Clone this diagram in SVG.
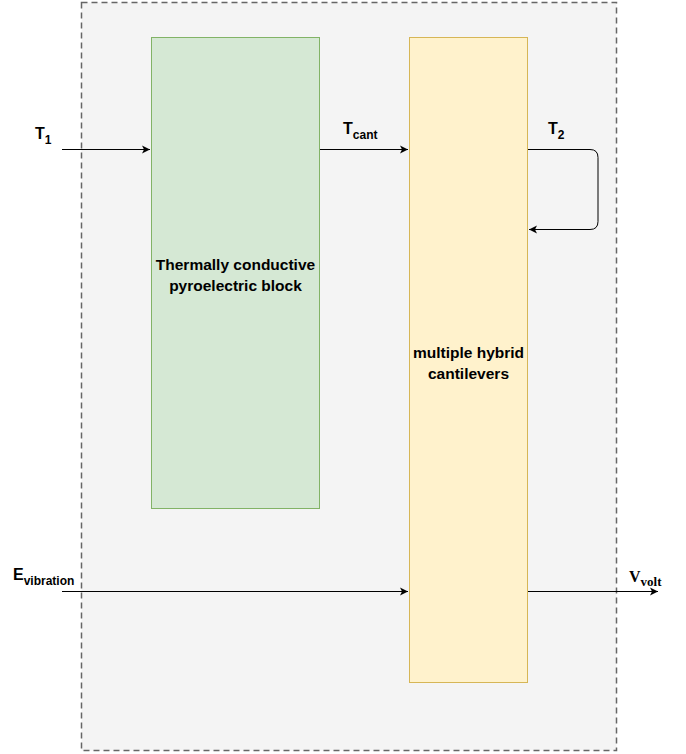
<svg xmlns="http://www.w3.org/2000/svg" width="686" height="754" viewBox="0 0 686 754">
<defs>
<style>
.lbl{font-family:"Liberation Sans",Arial,sans-serif;font-weight:bold;font-size:15.5px;fill:#000}
.tl{font-family:"Liberation Sans",Arial,sans-serif;font-weight:bold;font-size:16px;fill:#000}
.sub{font-size:12px}
.edge{fill:none;stroke:#000;stroke-width:1}
</style>
<marker id="arr" markerWidth="10" markerHeight="10" refX="9" refY="5" orient="auto" markerUnits="userSpaceOnUse">
<path d="M1,1 L9,5 L1,9 L3,5 Z" fill="#000"/>
</marker>
</defs>
<rect width="686" height="754" fill="#fff"/>
<g id="container">
<rect x="81.5" y="2.5" width="535" height="748" fill="#f4f4f4" stroke="#666" stroke-width="1.5" stroke-dasharray="6,4"/>
</g>
<g id="pyro">
<rect x="151.5" y="37.5" width="168" height="471" fill="#d5e8d4" stroke="#82b366"/>
<text class="lbl" x="235.5" y="270" text-anchor="middle">Thermally conductive</text>
<text class="lbl" x="235.5" y="291" text-anchor="middle">pyroelectric block</text>
</g>
<g id="cantilevers">
<rect x="409.5" y="37.5" width="118" height="645" fill="#fff2cc" stroke="#d6b656"/>
<text class="lbl" x="468.5" y="358" text-anchor="middle">multiple hybrid</text>
<text class="lbl" x="468.5" y="379" text-anchor="middle">cantilevers</text>
</g>
<g id="connectors">
<path class="edge" d="M62,149.5 H150" marker-end="url(#arr)"/>
<path class="edge" d="M320,149.5 H408" marker-end="url(#arr)"/>
<path class="edge" d="M528,149.5 H590 Q598,149.5 598,157.5 V221.5 Q598,229.5 590,229.5 H529" marker-end="url(#arr)"/>
<path class="edge" d="M62,591.5 H408" marker-end="url(#arr)"/>
<path class="edge" d="M528,591.5 H658" marker-end="url(#arr)"/>
</g>
<g id="labels">
<text class="tl" x="35" y="139">T<tspan class="sub" dy="5">1</tspan></text>
<text class="tl" x="343" y="134">T<tspan class="sub" dy="5">cant</tspan></text>
<text class="tl" x="548" y="134">T<tspan class="sub" dy="5">2</tspan></text>
<text class="tl" x="13" y="580">E<tspan class="sub" dy="5">vibration</tspan></text>
<text x="629" y="582" style="font-family:'Liberation Serif','Times New Roman',serif;font-weight:bold;font-size:16px">V<tspan style="font-size:13px" dy="4">volt</tspan></text>
</g>
</svg>
